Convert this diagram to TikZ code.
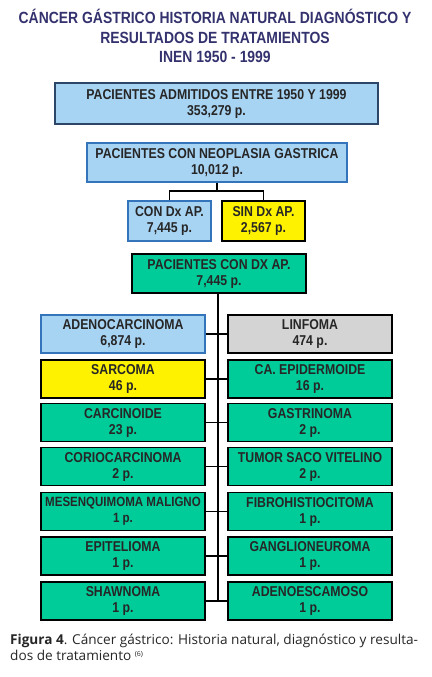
\documentclass[tikz,border=0pt]{standalone}
\usepackage{fontspec}
\setmainfont{Liberation Sans}
\newfontfamily\boxfont[FakeStretch=0.86]{Liberation Sans}
\newfontfamily\capfont{Open Sans}
\usetikzlibrary{positioning}

\definecolor{titulo}{RGB}{52,50,110}
\definecolor{celeste}{RGB}{168,212,244}
\definecolor{azulborde}{RGB}{52,116,186}
\definecolor{azuloscuro}{RGB}{44,70,104}
\definecolor{amarillo}{RGB}{255,242,0}
\definecolor{verde}{RGB}{0,204,153}
\definecolor{gris}{RGB}{212,212,212}

\begin{document}
\begin{tikzpicture}[x=1pt, y=-1pt,
    caja/.style={draw, line width=1.8pt, inner sep=0pt, align=center,
        minimum height=38pt, text=black!85,
        font=\boxfont\bfseries\fontsize{14.3}{16}\selectfont},
    azul/.style={caja, fill=celeste, draw=azulborde},
    amar/.style={caja, fill=amarillo},
    verd/.style={caja, fill=verde},
    gri/.style={caja, fill=gris},
    izq/.style={minimum width=164pt},
    der/.style={minimum width=164pt},
    linea/.style={line width=1.8pt}]
        \useasboundingbox (0,0) rectangle (431,677);
        
        % Titulo
        \node[text=titulo, align=center, font=\boxfont\bfseries\fontsize{16.2}{19.8}\selectfont] (titulo) at (215,36)
            {CÁNCER GÁSTRICO HISTORIA NATURAL DIAGNÓSTICO Y\\RESULTADOS DE TRATAMIENTOS\\INEN 1950 - 1999};
        
        % Cajas superiores
        \node[azul, draw=azuloscuro, minimum width=323pt, minimum height=41pt] (admitidos) at (216.5,103.5)
            {PACIENTES ADMITIDOS ENTRE 1950 Y 1999\\353,279 p.};
        \node[azul, minimum width=260pt, minimum height=39pt] (neoplasia) at (217,162.5)
            {PACIENTES CON NEOPLASIA GASTRICA\\10,012 p.};
        \node[azul, minimum width=83pt, minimum height=40pt] (condx) at (169.5,221)
            {CON Dx AP.\\7,445 p.};
        \node[amar, minimum width=83pt, minimum height=40pt] (sindx) at (263.5,221)
            {SIN Dx AP.\\2,567 p.};
        \node[verd, minimum width=174pt, minimum height=39pt] (condxap) at (219,273.5)
            {PACIENTES CON DX AP.\\7,445 p.};
        
        % Ramificacion
        \coordinate (horq) at (217,191);
        \draw[linea] (neoplasia.south) -- (horq);
        \draw[linea] (condx.north) |- (horq) -| (sindx.north);
        
        % Tipos histologicos
        \node[azul, izq] (adeno) at (123,334) {ADENOCARCINOMA\\6,874 p.};
        \node[gri, der] (linfoma) at (310,334) {LINFOMA\\474 p.};
        \node[amar, izq] (sarcoma) at (123,379) {SARCOMA\\46 p.};
        \node[verd, der] (epider) at (310,379) {CA. EPIDERMOIDE\\16 p.};
        \node[verd, izq] (carcin) at (123,422.5) {CARCINOIDE\\23 p.};
        \node[verd, der] (gastrin) at (310,422.5) {GASTRINOMA\\2 p.};
        \node[verd, izq] (corio) at (123,466.5) {CORIOCARCINOMA\\2 p.};
        \node[verd, der] (saco) at (310,466.5) {TUMOR SACO VITELINO\\2 p.};
        \node[verd, izq, font=\boxfont\bfseries\fontsize{13.4}{16}\selectfont] (mesenq) at (123,511.5) {MESENQUIMOMA MALIGNO\\1 p.};
        \node[verd, der] (fibro) at (310,511.5) {FIBROHISTIOCITOMA\\1 p.};
        \node[verd, izq] (epitel) at (123,556) {EPITELIOMA\\1 p.};
        \node[verd, der] (gangl) at (310,556) {GANGLIONEUROMA\\1 p.};
        \node[verd, izq] (shawn) at (123,601) {SHAWNOMA\\1 p.};
        \node[verd, der] (adenoesc) at (310,601) {ADENOESCAMOSO\\1 p.};
        
        % Tronco y conectores
        \coordinate (tronco) at (218,601);
        \draw[linea] (condxap.south -| tronco) -- (tronco);
        \foreach \a/\b in {adeno/linfoma, sarcoma/epider, carcin/gastrin, corio/saco,
                mesenq/fibro, epitel/gangl, shawn/adenoesc}
            \draw[linea] (\a.east) -- (\b.west);
        
        % Leyenda
        \node[anchor=north west, align=left, text=black!85, inner sep=0pt,
            font=\capfont\fontsize{13.6}{16}\selectfont] (leyenda) at (10,634)
            {\textbf{Figura 4}. Cáncer gástrico: Historia natural, diagnóstico y resulta-\\dos de tratamiento \raisebox{0.5ex}{\fontsize{7}{7}\selectfont (6)}};
    \end{tikzpicture}
\end{document}
